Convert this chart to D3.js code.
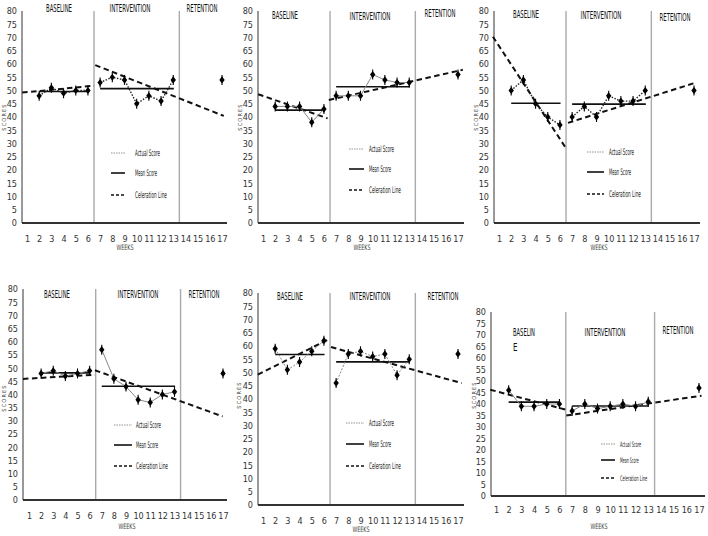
<!DOCTYPE html>
<html><head><meta charset="utf-8">
<script src="https://cdn.jsdelivr.net/npm/d3@7"></script>
<style>
body{margin:0;background:#fff}
svg{display:block}
text{font-family:"Liberation Sans Narrow","Arial Narrow","DejaVu Sans Condensed","Liberation Sans",sans-serif;fill:#222}
</style>
</head><body>
<svg id="c" width="708" height="536"></svg>
<script>
// ---------- DATA ----------
const weeks = [1,2,3,4,5,6,7,8,9,10,11,12,13,14,15,16,17];
const yTicks = [0,5,10,15,20,25,30,35,40,45,50,55,60,65,70,75,80];
const phaseNames = ["BASELINE","INTERVENTION","RETENTION"];
const legendLabels = ["Actual Score","Mean Score","Celeration Line"];
const baselineWeeks = [2,3,4,5,6];
const interventionWeeks = [7,8,9,10,11,12,13];
const retentionWeeks = [17];
const phaseBoundaries = [6.5,13.5];

const p1Baseline = [48,51,49,50,50];
const p1Intervention = [53,55,54,45,48,46,54];
const p1Retention = [54];
const p1BaseCeleration = [[0.6,49.2],[6.5,51.8]];
const p1IntCeleration = [[6.6,59.6],[17.15,40.4]];

const p2Baseline = [44,44,44,38,43];
const p2Intervention = [48,48,48,56,54,53,53];
const p2Retention = [56];
const p2BaseCeleration = [[0.6,48.6],[6.3,39.5]];
const p2IntCeleration = [[6.4,46.4],[17.4,57.8]];

const p3Baseline = [50,54,45,40,37];
const p3Intervention = [40,44,40,48,46,46,50];
const p3Retention = [50];
const p3BaseCeleration = [[0.5,70.3],[6.5,28.2]];
const p3IntCeleration = [[6.66,37.8],[17.1,52.9]];

const p4Baseline = [48,49,47,48,49];
const p4Intervention = [57,46,43,38,37,40,41];
const p4Retention = [48];
const p4BaseCeleration = [[0.5,45.9],[6.44,47.5]];
const p4IntCeleration = [[6.44,49.2],[16.97,31.7]];

const p5Baseline = [59,51,54,58,62];
const p5Intervention = [46,57,58,56,57,49,55];
const p5Retention = [57];
const p5BaseCeleration = [[0.57,49.2],[6.5,62.8]];
const p5IntCeleration = [[6.58,59.6],[17.3,46.0]];

const p6Baseline = [46,39,39,40,40];
const p6Intervention = [37,40,38,39,40,39,41];
const p6Retention = [47];
const p6BaseCeleration = [[0.55,46.2],[6.46,37.6]];
const p6IntCeleration = [[6.54,35.0],[17.2,43.6]];

// ---------- LAYOUT ----------
const panels = [
 {base:p1Baseline,int:p1Intervention,ret:p1Retention,bc:p1BaseCeleration,ic:p1IntCeleration,
  actual:{stroke:"#222",w:1.4,dash:"1.5,1.5"},
  ax:22,x1:27,x17:222,y0:223,y80:11,xEnd:227,tickY:242,weeksX:125,weeksY:250,scoresX:6,scoresY:117,
  phase:[{x:59,y:12,t:"BASELINE",w:26},{x:130,y:12,t:"INTERVENTION",w:41},{x:202,y:12,t:"RETENTION",w:31}],
  leg:{l0:111,l1:125,tx:135,rows:[156,176,198],fs:9,sc:1}},
 {base:p2Baseline,int:p2Intervention,ret:p2Retention,bc:p2BaseCeleration,ic:p2IntCeleration,
  actual:{stroke:"#888",w:1,dash:null},
  ax:258,x1:263,x17:458,y0:223,y80:11,xEnd:464,tickY:242,weeksX:362,weeksY:250,scoresX:242,scoresY:117,
  phase:[{x:285,y:19,t:"BASELINE",w:26},{x:370,y:20,t:"INTERVENTION",w:41},{x:440,y:17,t:"RETENTION",w:31}],
  leg:{l0:349,l1:364,tx:369,rows:[152,172,193],fs:9,sc:1}},
 {base:p3Baseline,int:p3Intervention,ret:p3Retention,bc:p3BaseCeleration,ic:p3IntCeleration,
  actual:{stroke:"#222",w:1.4,dash:"1.5,1.5"},
  ax:494,x1:499,x17:694,y0:223,y80:11,xEnd:700,tickY:242,weeksX:599,weeksY:250,scoresX:478,scoresY:117,
  phase:[{x:526,y:18,t:"BASELINE",w:26},{x:601,y:19,t:"INTERVENTION",w:41},{x:675,y:21,t:"RETENTION",w:31}],
  leg:{l0:587,l1:604,tx:609,rows:[155,175,197],fs:9,sc:1}},
 {base:p4Baseline,int:p4Intervention,ret:p4Retention,bc:p4BaseCeleration,ic:p4IntCeleration,
  actual:{stroke:"#888",w:1,dash:null},
  ax:23,x1:29,x17:223,y0:500,y80:289,xEnd:227,tickY:519,weeksX:127,weeksY:529,scoresX:6,scoresY:398,
  phase:[{x:57,y:298,t:"BASELINE",w:26},{x:138,y:298,t:"INTERVENTION",w:41},{x:204,y:298,t:"RETENTION",w:31}],
  leg:{l0:114,l1:132,tx:136,rows:[428,448,469],fs:9,sc:1}},
 {base:p5Baseline,int:p5Intervention,ret:p5Retention,bc:p5BaseCeleration,ic:p5IntCeleration,
  actual:{stroke:"#888",w:1,dash:"2,1.5"},
  ax:258,x1:263,x17:458,y0:505,y80:293,xEnd:464,tickY:524,weeksX:361,weeksY:532,scoresX:241,scoresY:395,
  phase:[{x:290,y:300,t:"BASELINE",w:26},{x:370,y:300,t:"INTERVENTION",w:41},{x:443,y:300,t:"RETENTION",w:31}],
  leg:{l0:346,l1:364,tx:369,rows:[426,447,469],fs:9,sc:1}},
 {base:p6Baseline,int:p6Intervention,ret:p6Retention,bc:p6BaseCeleration,ic:p6IntCeleration,
  actual:{stroke:"#888",w:1,dash:null},
  ax:491,x1:496,x17:699,y0:496,y80:312,xEnd:705,tickY:513,weeksX:599,weeksY:529,scoresX:476,scoresY:395,
  phase:[{x:524,y:336,t:"BASELIN",w:22},{x:513,y:351,t:"E",w:4.5,anchor:"start"},{x:605,y:336,t:"INTERVENTION",w:41},{x:678,y:334,t:"RETENTION",w:31}],
  leg:{l0:601,l1:615,tx:620,rows:[447,463,481],fs:7.5,sc:0.85}}
];

const legendWidths = [25,22,32];
const svg = d3.select("#c");

// draw a text squeezed horizontally to a given width (keeps it real text)
function fitText(g, x, y, txt, fs, width, anchor, fill) {
  const t = g.append("text").attr("font-size", fs).attr("text-anchor", anchor || "start")
    .style("fill", fill || "#222").text(txt);
  const nat = t.node().getComputedTextLength() || width;
  t.attr("transform", `translate(${x},${y}) scale(${width / nat},1)`);
  return t;
}

panels.forEach(p => {
  const g = svg.append("g");
  const x = d3.scaleLinear().domain([weeks[0], weeks[weeks.length-1]]).range([p.x1, p.x17]);
  const y = d3.scaleLinear().domain([yTicks[0], yTicks[yTicks.length-1]]).range([p.y0, p.y80]);

  // y axis labels
  const ya = g.append("g").attr("transform",`translate(${p.ax},0)`)
    .call(d3.axisLeft(y).tickValues(yTicks).tickSize(0).tickPadding(5));
  ya.select(".domain").remove();
  ya.selectAll("text").attr("font-size",9).attr("font-family",null).style("fill","#333");

  // x axis labels
  const xa = g.append("g").attr("transform",`translate(0,${p.y0})`)
    .call(d3.axisBottom(x).tickValues(weeks).tickSize(0).tickPadding(p.tickY - p.y0 - 6.4));
  xa.select(".domain").remove();
  xa.selectAll("text").attr("font-size",9).attr("font-family",null).style("fill","#333");

  // phase boundaries
  g.selectAll(".ph").data(phaseBoundaries).enter().append("line")
    .attr("x1",d=>x(d)).attr("x2",d=>x(d)).attr("y1",y(80)).attr("y2",p.y0)
    .attr("stroke","#aaa").attr("stroke-width",1.4);

  // axis lines
  g.append("line").attr("x1",p.ax).attr("x2",p.ax).attr("y1",y(80)).attr("y2",p.y0)
    .attr("stroke","#555").attr("stroke-width",1.2);
  g.append("line").attr("x1",p.ax).attr("x2",p.xEnd).attr("y1",p.y0).attr("y2",p.y0)
    .attr("stroke","#333").attr("stroke-width",2);

  // axis titles
  fitText(g, p.weeksX, p.weeksY, "WEEKS", 7.5, 17, "middle", "#444");
  g.append("text").attr("transform",`translate(${p.scoresX},${p.scoresY}) rotate(-90)`)
    .attr("text-anchor","middle").attr("font-size",5.5).attr("letter-spacing",1.2)
    .style("fill","#444").text("SCORES");

  // phase labels
  p.phase.forEach(ph => fitText(g, ph.x, ph.y, ph.t, 10.5, ph.w, ph.anchor || "middle", "#111"));

  const line = d3.line().x(d=>x(d[0])).y(d=>y(d[1]));

  // celeration lines
  [p.bc, p.ic].forEach(c => {
    g.append("path").attr("d",line(c)).attr("fill","none").attr("stroke","#111")
      .attr("stroke-width",2).attr("stroke-dasharray","5.5,3.5");
  });

  // mean lines
  [[baselineWeeks,p.base],[interventionWeeks,p.int]].forEach(([wk,vals]) => {
    const m = d3.mean(vals);
    g.append("path").attr("d",line([[wk[0],m],[wk[wk.length-1]+0.05,m]]))
      .attr("fill","none").attr("stroke","#111").attr("stroke-width",1.6);
  });

  // actual score lines
  [[baselineWeeks,p.base],[interventionWeeks,p.int]].forEach(([wk,vals]) => {
    const pts = wk.map((w,i)=>[w,vals[i]]);
    const path = g.append("path").attr("d",line(pts)).attr("fill","none")
      .attr("stroke",p.actual.stroke).attr("stroke-width",p.actual.w);
    if (p.actual.dash) path.attr("stroke-dasharray",p.actual.dash);
  });

  // markers
  const allPts = [].concat(
    baselineWeeks.map((w,i)=>[w,p.base[i]]),
    interventionWeeks.map((w,i)=>[w,p.int[i]]),
    retentionWeeks.map((w,i)=>[w,p.ret[i]]));
  const mk = g.selectAll(".mk").data(allPts).enter().append("g")
    .attr("transform",d=>`translate(${x(d[0])},${y(d[1])})`);
  mk.append("line").attr("y1",-5).attr("y2",5).attr("stroke","#000").attr("stroke-width",1.1);
  mk.append("path").attr("d","M0,-3.6L2.7,0L0,3.6L-2.7,0Z").attr("fill","#000");

  // legend
  const L = p.leg;
  const styles = [
    {stroke:"#888",w:0.9,dash:"1.5,1"},
    {stroke:"#111",w:1.6,dash:null},
    {stroke:"#111",w:1.5,dash:"3,2"}];
  legendLabels.forEach((lab,i) => {
    const ly = L.rows[i];
    const ln = g.append("line").attr("x1",L.l0).attr("x2",L.l1).attr("y1",ly-3).attr("y2",ly-3)
      .attr("stroke",styles[i].stroke).attr("stroke-width",styles[i].w);
    if (styles[i].dash) ln.attr("stroke-dasharray",styles[i].dash);
    fitText(g, L.tx, ly, lab, L.fs, legendWidths[i]*L.sc, "start", "#222");
  });
});
</script>
</body></html>
